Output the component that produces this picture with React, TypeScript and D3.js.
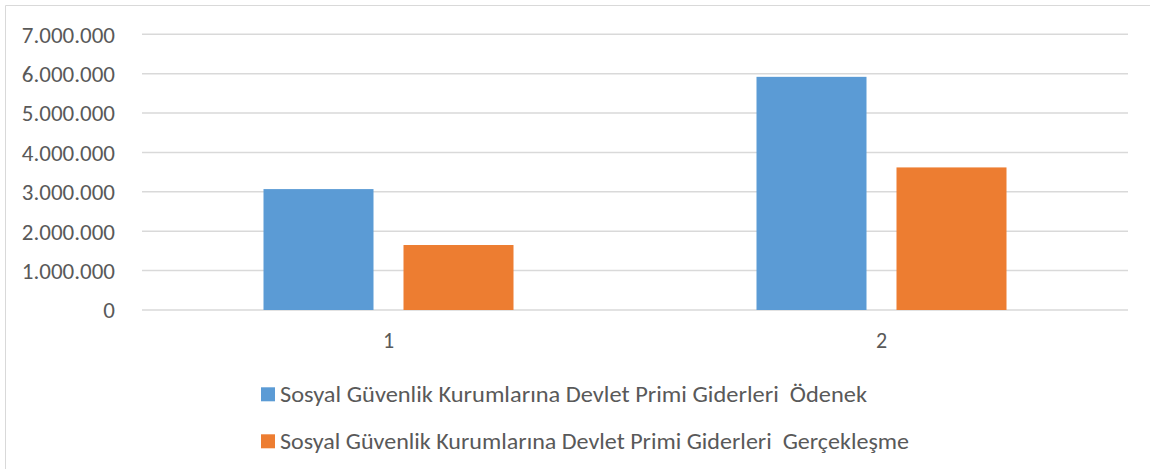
import React from "react";
import * as d3 from "d3";

const categories = ["1", "2"];
const seriesNames = [
  "Sosyal Güvenlik Kurumlarına Devlet Primi Giderleri  Ödenek",
  "Sosyal Güvenlik Kurumlarına Devlet Primi Giderleri  Gerçekleşme",
];
const odenek = [3070000, 5920000];
const gerceklesme = [1650000, 3620000];
const yTicks = [0, 1000000, 2000000, 3000000, 4000000, 5000000, 6000000, 7000000];
const colors = ["#5B9BD5", "#ED7D31"];

const W = 1150;
const H = 469;
const font = "Carlito, Calibri, Lato, 'Liberation Sans', Arial, sans-serif";
const legendWidths = [587, 629];

export default function App() {
  const x = d3.scaleBand().domain(categories).range([142, 1128]).paddingInner(0).paddingOuter(0);
  const y = d3.scaleLinear().domain([0, 7000000]).range([310, 34.3]);
  const fmt = (v: number) => d3.format(",")(v).replace(/,/g, ".");
  const series = [odenek, gerceklesme];
  const barW = 110;
  const gap = 30;

  return (
    <svg width={W} height={H} style={{ position: "absolute", left: 0, top: 0, display: "block" }}>
      <rect x={0} y={0} width={W} height={H} fill="#fff" />
      <line x1={5.5} y1={5.5} x2={W} y2={5.5} stroke="#d9d9d9" strokeWidth={1} />
      <line x1={5.5} y1={5.5} x2={5.5} y2={H} stroke="#d9d9d9" strokeWidth={1} />
      {yTicks.map((t) => (
        <g key={t}>
          <line x1={142} x2={1128} y1={y(t)} y2={y(t)} stroke="#d9d9d9" strokeWidth={1.5} />
          <text x={115} y={y(t)} dy="0.36em" textAnchor="end" fontFamily={font} fontSize={23} fill="#595959">
            {fmt(t)}
          </text>
        </g>
      ))}
      {categories.map((c, i) => {
        const cx = (x(c) as number) + x.bandwidth() / 2;
        return (
          <g key={c}>
            {series.map((s, j) => {
              const bx = j === 0 ? cx - gap / 2 - barW : cx + gap / 2;
              return (
                <rect key={j} x={bx} y={y(s[i])} width={barW} height={y(0) - y(s[i])} fill={colors[j]} />
              );
            })}
            <text x={cx} y={340.5} dy="0.36em" textAnchor="middle" fontFamily={font} fontSize={22} fill="#595959">
              {c}
            </text>
          </g>
        );
      })}
      {seriesNames.map((n, j) => {
        const ly = 394.3 + j * 47;
        return (
          <g key={n}>
            <rect x={261} y={ly - 7} width={14} height={14} fill={colors[j]} />
            <text
              x={280}
              y={ly}
              dy="0.36em"
              fontFamily={font}
              fontSize={22}
              fill="#595959"
              textLength={legendWidths[j]}
              lengthAdjust="spacingAndGlyphs"
              style={{ whiteSpace: "pre" }}
            >
              {n}
            </text>
          </g>
        );
      })}
    </svg>
  );
}
